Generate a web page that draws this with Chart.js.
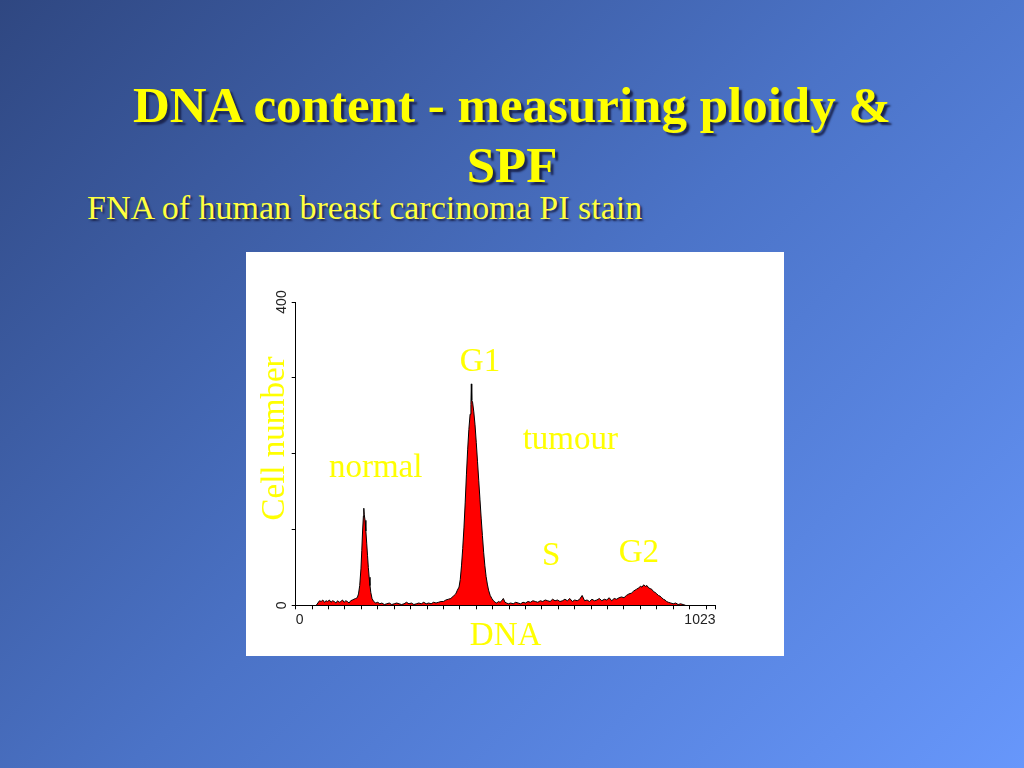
<!DOCTYPE html>
<html>
<head>
<meta charset="utf-8">
<script src="https://cdn.jsdelivr.net/npm/chart.js@4.4.1/dist/chart.umd.min.js"></script>
<style>
  html, body { margin: 0; padding: 0; }
  .slide {
    position: relative; width: 1024px; height: 768px; overflow: hidden;
    background: linear-gradient(135deg, #2f4781 0%, #4b73c7 50%, #6797fb 100%);
  }
  .title {
    position: absolute; left: 0; top: 75px; width: 1024px; text-align: center;
    font: bold 51px 'Liberation Serif', 'Times New Roman', serif; line-height: 60px;
    color: #ffff00; text-shadow: 3px 3px 2px #1b2550;
  }
  .subtitle {
    position: absolute; left: 87px; top: 188px; white-space: nowrap;
    font: 34px 'Liberation Serif', 'Times New Roman', serif; line-height: 40px;
    color: #ffff40; text-shadow: 2px 2px 2px #1b2550;
  }
  .plot { position: absolute; left: 246px; top: 252px; width: 538px; height: 404px; background: #fff; }
</style>
</head>
<body>
<div class="slide">
  <div class="title">DNA content - measuring ploidy &amp;<br>SPF</div>
  <div class="subtitle">FNA of human breast carcinoma PI stain</div>
  <div class="plot"><canvas id="dnaChart" width="538" height="404"></canvas></div>
</div>
<script>
// Histogramme ADN : canal (0-1023) et nombre de cellules
const channels = [
  50, 54, 58, 62, 66, 70, 74, 78, 82, 86, 90, 94, 98, 102, 106, 110, 114, 118, 122, 126, 130, 134, 138, 142, 146,
  150, 153, 156, 159, 161, 163, 165, 166, 167, 169, 171, 173, 175, 177, 179, 181, 183, 186,
  190, 195, 200, 205, 210, 216, 222, 228, 234, 240, 246, 252, 258, 264, 270, 276, 282, 288, 294, 300,
  306, 312, 318, 324, 330, 336, 342, 348, 354, 360, 366, 372, 378, 384, 390,
  394, 398, 401, 404, 407, 410, 413, 416, 419, 422, 425, 427, 428, 429, 431, 434, 437, 440, 443, 446,
  449, 452, 455, 458, 461, 464, 467, 470, 474, 478, 482, 486,
  490, 494, 498, 502, 506, 510, 514, 518,
  524, 530, 536, 542, 548, 554, 560, 566, 572, 578, 584, 590, 596, 602, 608, 614, 620, 626, 632, 638,
  644, 650, 656, 662, 668, 674, 680, 686, 692, 698, 704, 710, 716, 722, 728, 734, 740, 746, 752, 758,
  764, 770, 776, 782, 788, 794,
  800, 806, 812, 818, 824, 830, 836, 840, 844, 848, 852, 856, 860, 864, 868, 872, 876, 880, 884, 888,
  892, 896, 900, 904, 908, 914, 920, 926, 932, 938, 944, 950
];
const counts = [
  0, 3, 6, 5, 7, 4, 6, 5, 7, 4, 6, 5, 3, 6, 4, 5, 7, 4, 6, 5, 3, 6, 7, 8, 9,
  10, 15, 26, 48, 72, 98, 118, 128, 120, 112, 98, 82, 66, 50, 37, 26, 17, 9,
  5, 3, 4, 2, 3, 1, 2, 3, 1, 2, 3, 2, 1, 2, 4, 2, 3, 1, 2, 3,
  2, 4, 2, 3, 2, 4, 3, 4, 5, 5, 7, 8, 9, 12, 15,
  20, 24, 34, 52, 75, 102, 135, 172, 205, 232, 252, 265, 292, 270, 268, 255, 238, 215, 190, 165,
  140, 115, 92, 70, 52, 38, 28, 20, 13, 9, 6, 4,
  3, 5, 4, 6, 9, 4, 3, 2,
  3, 2, 4, 3, 2, 4, 3, 5, 4, 6, 5, 4, 6, 5, 7, 6, 5, 8, 6, 7,
  5, 6, 8, 6, 9, 5, 7, 6, 8, 13, 6, 7, 5, 8, 6, 7, 9, 6, 8, 7,
  10, 6, 9, 8, 10, 11,
  10, 13, 15, 16, 19, 21, 23, 25, 24, 27, 25, 26, 23, 22, 21, 18, 17, 15, 13, 12,
  10, 8, 7, 5, 4, 3, 2, 3, 1, 2, 1, 0
];

const xMax = 1023;
const xTickStep = 40;
const xTickLabels = { 0: '0', 1023: '1023' };
const yTicks = [0, 100, 200, 300, 400];
const yTickLabels = { 0: '0', 400: '400' };

// Etiquettes des pics (position en canal / nombre de cellules)
const peakLabels = [
  { text: 'normal', channel: 81, count: 169 },
  { text: 'G1', channel: 400, count: 309 },
  { text: 'tumour', channel: 553, count: 206 },
  { text: 'S', channel: 600, count: 53 },
  { text: 'G2', channel: 787, count: 57 }
];

const xTickValues = [];
for (let v = 0; v <= xMax; v += xTickStep) xTickValues.push(v);
xTickValues.push(xMax);

const annotations = {
  id: 'annotations',
  afterDraw(chart) {
    const { ctx, chartArea, scales: { x, y } } = chart;
    ctx.save();
    ctx.fillStyle = '#ffff00';
    ctx.font = '33px "Liberation Serif", "Times New Roman", serif';
    ctx.textAlign = 'left';
    ctx.textBaseline = 'alphabetic';
    peakLabels.forEach(l => {
      ctx.fillText(l.text, x.getPixelForValue(l.channel), y.getPixelForValue(l.count));
    });
    // titre de l'axe vertical
    ctx.translate(chartArea.left - 12, y.getPixelForValue(220));
    ctx.rotate(-Math.PI / 2);
    ctx.textAlign = 'center';
    ctx.fillText('Cell number', 0, 0);
    ctx.restore();
  }
};

const ctx = document.getElementById('dnaChart').getContext('2d');
const dnaChart = new Chart(ctx, {
  type: 'line',
  data: {
    datasets: [{
      data: channels.map((c, i) => ({ x: c, y: counts[i] })),
      borderColor: '#000000',
      borderWidth: 1,
      backgroundColor: '#ff0000',
      fill: 'origin',
      pointRadius: 0,
      tension: 0
    }]
  },
  options: {
    responsive: false,
    animation: false,
    devicePixelRatio: 1,
    layout: { padding: { top: 50, right: 68.5, bottom: 0, left: 0 } },
    plugins: { legend: { display: false }, tooltip: { enabled: false } },
    scales: {
      x: {
        type: 'linear',
        min: 0,
        max: xMax,
        afterBuildTicks: scale => { scale.ticks = xTickValues.map(v => ({ value: v })); },
        afterFit: scale => { scale.height = 50.7; },
        border: { color: '#000', width: 1 },
        grid: { drawOnChartArea: false, drawTicks: true, tickLength: 4, color: '#000' },
        ticks: {
          autoSkip: false, maxRotation: 0, minRotation: 0, align: 'inner', padding: 2,
          color: '#222', font: { family: 'Arial, "Liberation Sans"', size: 14 },
          callback: v => xTickLabels[v] ?? ''
        },
        title: {
          display: true, text: 'DNA', color: '#ffff00',
          font: { family: '"Liberation Serif", "Times New Roman", serif', size: 33 },
          padding: { top: 0, bottom: 0 }
        }
      },
      y: {
        min: 0,
        max: 400,
        afterBuildTicks: scale => { scale.ticks = yTicks.map(v => ({ value: v })); },
        afterFit: scale => { scale.width = 49.7; },
        border: { color: '#000', width: 1 },
        grid: { drawOnChartArea: false, drawTicks: true, tickLength: 4, color: '#000' },
        ticks: {
          autoSkip: false, minRotation: 90, maxRotation: 90, crossAlign: 'center', padding: -2,
          color: '#222', font: { family: 'Arial, "Liberation Sans"', size: 14 },
          callback: v => yTickLabels[v] ?? ''
        }
      }
    }
  },
  plugins: [annotations]
});
</script>
</body>
</html>
